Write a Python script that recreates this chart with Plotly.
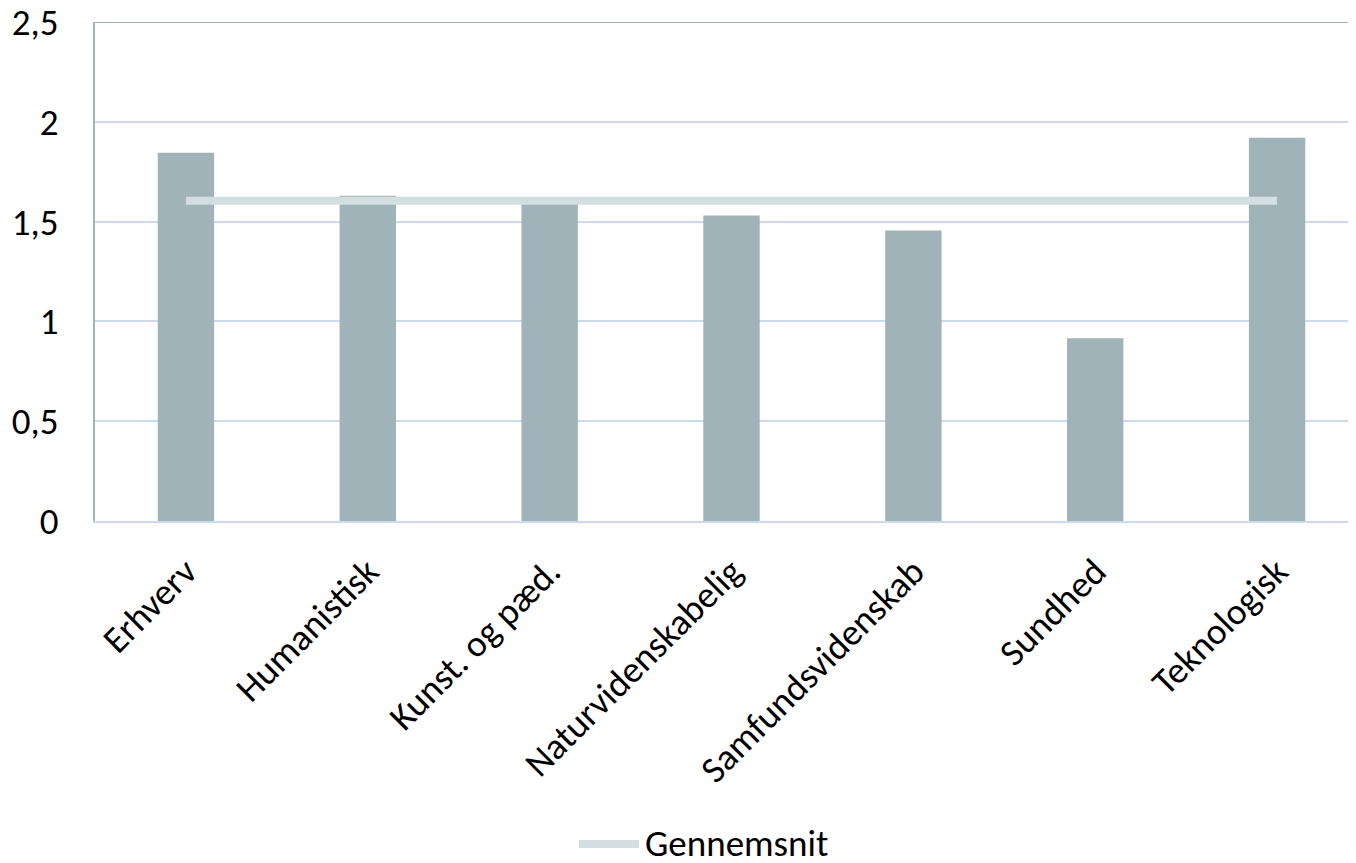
import plotly.graph_objects as go

categories = ["Erhverv", "Humanistisk", "Kunst. og pæd.", "Naturvidenskabelig",
              "Samfundsvidenskab", "Sundhed", "Teknologisk"]
values = [1.845, 1.63, 1.59, 1.53, 1.455, 0.915, 1.92]
average_value = 1.605
average = [average_value] * len(categories)
y_ticks = [0, 0.5, 1, 1.5, 2, 2.5]

FONT = "Carlito, Calibri, Lato, sans-serif"
FS = 37
W, H = 1348, 855
ML, MR, MT, MB = 87, 0, 14, 342
PW, PH = W - ML - MR, H - MT - MB


def px_x(page_x):
    return (page_x - 8 - ML) / PW


def px_y(page_y):
    return (H - MB - (page_y - 8)) / PH


fig = go.Figure()
fig.add_trace(go.Bar(
    x=categories, y=values, width=0.31,
    marker=dict(color="#9fb3b8", line=dict(width=0)),
    showlegend=False, name="Værdi",
))
fig.add_trace(go.Scatter(
    x=categories, y=average, mode="lines", name="Gennemsnit",
    line=dict(color="#d3dee0", width=8), showlegend=False,
))

fig.update_layout(
    width=W, height=H,
    margin=dict(l=ML, r=MR, t=MT, b=MB, pad=0),
    paper_bgcolor="white", plot_bgcolor="white",
    separators=", ",
    font=dict(family=FONT, size=FS, color="black"),
    bargap=0.69,
    shapes=[
        dict(type="line", xref="paper", yref="y", x0=0, x1=1, y0=2.5, y1=2.5,
             line=dict(color="#a0b4b9", width=2), layer="above"),
        dict(type="line", xref="paper", yref="paper", x0=px_x(579), x1=px_x(639),
             y0=px_y(844), y1=px_y(844), line=dict(color="#d3dee0", width=8)),
    ],
    annotations=[
        dict(text="Gennemsnit", xref="paper", yref="paper", x=px_x(643), y=px_y(843),
             xanchor="left", yanchor="middle", showarrow=False, font=dict(size=FS)),
    ],
)
fig.update_xaxes(
    range=[-0.5, 6.434], tickangle=-45, showline=True, linecolor="#cbdaee", linewidth=2,
    ticks="outside", ticklen=12, tickcolor="white", showgrid=False,
    tickfont=dict(size=FS), automargin=False,
)
fig.update_yaxes(
    range=[0, 2.5], tickvals=y_ticks, showgrid=True, gridcolor="#cbdaee", gridwidth=2,
    showline=True, linecolor="#a0b4b9", linewidth=2, zeroline=False,
    ticks="outside", ticklen=27, tickcolor="white", tickfont=dict(size=FS),
    automargin=False, ticklabeloverflow="allow",
)

fig.write_html("out.html")
